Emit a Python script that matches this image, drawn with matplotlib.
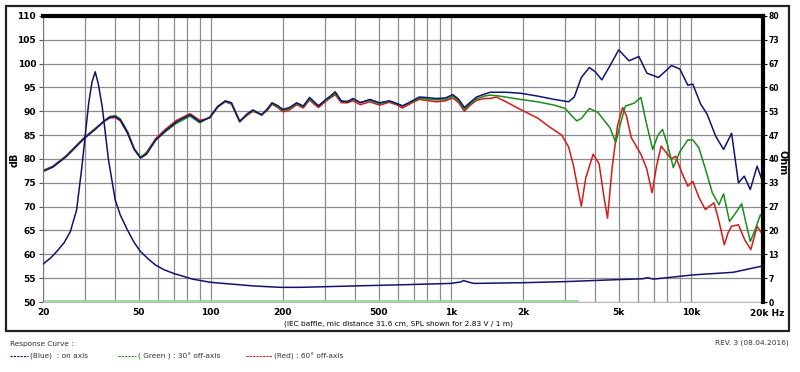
''' frequency response + impedance chart '''
import numpy as np
import matplotlib.pyplot as plt
from matplotlib.patches import Rectangle
from matplotlib.lines import Line2D

plt.rcParams['font.family'] = ['DejaVu Sans']

#%% data
# SPL, on axis (dB)
f_blue = [20, 22, 25, 28, 30, 33, 36, 38, 40, 42, 45, 48, 51, 54, 59, 65, 72, 82, 90, 99,
          107, 115, 122, 132, 142, 150, 163, 172, 180, 190, 200, 213, 228, 243, 258, 270,
          281, 300, 315, 330, 350, 370, 392, 420, 460, 505, 555, 600, 630, 690, 740, 790,
          870, 950, 1020, 1080, 1140, 1200, 1280, 1380, 1460, 1600, 1700, 1950, 2300, 2700,
          3100, 3270, 3500, 3780, 4000, 4260, 4600, 5010, 5250, 5530, 6080, 6570, 7340,
          8310, 9000, 9720, 10200, 11000, 11700, 12700, 13700, 14800, 15800, 16700, 17700,
          18900, 20000]
spl_blue = [77.4, 78.3, 80.5, 83.0, 84.5, 86.2, 88.0, 88.8, 88.9, 88.2, 85.5, 82.0, 80.2,
            81.0, 84.0, 86.0, 87.8, 89.3, 87.8, 88.7, 91.0, 92.2, 91.8, 87.8, 89.5, 90.3,
            89.2, 90.5, 91.8, 91.2, 90.4, 90.8, 91.8, 91.1, 92.9, 92.0, 91.1, 92.4, 93.2,
            94.1, 92.2, 92.0, 92.7, 91.8, 92.5, 91.8, 92.2, 91.6, 91.1, 92.2, 93.0, 92.9,
            92.7, 92.8, 93.5, 92.5, 90.8, 91.8, 93.0, 93.6, 94.0, 94.0, 94.0, 93.8, 93.2,
            92.5, 92.0, 93.0, 97.1, 99.2, 98.3, 96.6, 99.5, 102.9, 101.8, 100.6, 101.5,
            98.0, 97.1, 99.6, 98.9, 95.5, 95.7, 91.5, 89.4, 84.8, 82.0, 85.4, 75.0, 76.4,
            73.6, 78.5, 75.0]

# SPL, 30 deg off axis (dB)
f_green = [20, 22, 25, 28, 30, 33, 36, 38, 40, 42, 45, 48, 51, 54, 59, 65, 72, 82, 90, 99,
           107, 115, 122, 132, 142, 150, 163, 172, 180, 190, 200, 213, 228, 243, 258, 270,
           281, 300, 315, 330, 350, 370, 392, 420, 460, 505, 555, 600, 630, 690, 740, 790,
           870, 950, 1020, 1080, 1140, 1200, 1280, 1380, 1460, 1600, 1950, 2300, 2700, 3000,
           3200, 3350, 3500, 3780, 4100, 4600, 4870, 5100, 5340, 5800, 6200, 6500, 6940,
           7300, 7630, 8000, 8460, 9000, 9720, 10200, 10800, 11500, 12300, 13100, 13700,
           14500, 15300, 16300, 17000, 17700, 18500, 19500, 20000]
spl_green = [77.5, 78.4, 80.6, 83.1, 84.6, 86.3, 88.0, 88.9, 89.1, 88.4, 85.8, 82.2, 80.4,
             81.3, 84.0, 85.8, 87.5, 89.0, 87.6, 88.8, 91.1, 92.1, 91.7, 88.0, 89.4, 90.1,
             89.4, 90.4, 91.6, 91.0, 90.2, 90.6, 91.6, 91.0, 92.6, 91.8, 91.2, 92.2, 93.0,
             93.8, 92.1, 92.1, 92.5, 91.9, 92.3, 91.6, 92.1, 91.5, 91.2, 92.0, 92.8, 92.6,
             92.4, 92.5, 93.2, 92.2, 90.4, 91.5, 92.6, 93.2, 93.4, 93.2, 92.5, 92.0, 91.3,
             90.6, 89.0, 88.0, 88.5, 90.6, 89.8, 86.6, 83.5, 87.5, 91.1, 91.7, 92.9, 88.0,
             82.0, 85.0, 86.2, 83.0, 78.2, 81.5, 84.0, 84.0, 82.4, 78.0, 72.9, 70.4, 72.7,
             66.9, 68.5, 70.6, 66.5, 62.7, 65.0, 68.3, 67.5]

# SPL, 60 deg off axis (dB)
f_red = [20, 22, 25, 28, 30, 33, 36, 38, 40, 42, 45, 48, 51, 54, 59, 65, 72, 82, 90, 99,
         107, 115, 122, 132, 142, 150, 163, 172, 180, 190, 200, 213, 228, 243, 258, 270,
         281, 300, 315, 330, 350, 370, 392, 420, 460, 505, 555, 600, 630, 690, 740, 790,
         870, 950, 1020, 1080, 1140, 1200, 1280, 1380, 1460, 1550, 1700, 1950, 2300, 2600,
         2900, 3100, 3250, 3350, 3500, 3650, 3920, 4150, 4350, 4500, 4700, 4950, 5200,
         5400, 5650, 6200, 6550, 6900, 7200, 7530, 8000, 8310, 8640, 9200, 9720, 10200,
         10800, 11500, 12500, 13100, 13800, 14300, 14800, 15800, 16800, 17800, 18900, 20000]
spl_red = [77.6, 78.5, 80.7, 83.2, 84.7, 86.4, 87.9, 88.6, 88.7, 88.0, 85.4, 82.0, 80.3,
           81.4, 84.3, 86.3, 88.1, 89.5, 88.1, 88.6, 90.9, 92.0, 91.5, 87.9, 89.2, 90.0,
           89.3, 90.2, 91.5, 90.8, 89.9, 90.3, 91.4, 90.7, 92.4, 91.5, 90.8, 92.0, 92.8,
           93.5, 91.8, 91.8, 92.2, 91.4, 92.0, 91.3, 91.9, 91.3, 90.7, 91.8, 92.5, 92.3,
           92.0, 92.2, 92.8, 91.8, 90.0, 91.2, 92.3, 92.7, 92.7, 93.0, 92.0, 90.4, 88.6,
           86.6, 85.0, 82.5, 78.5, 75.0, 70.1, 76.0, 81.0, 79.0, 72.0, 67.6, 78.0, 86.9,
           90.8, 89.0, 84.5, 81.0, 78.0, 72.9, 78.5, 82.7, 81.0, 80.0, 80.6, 77.0, 74.3,
           75.3, 72.0, 69.4, 70.8, 67.0, 62.0, 64.5, 65.9, 66.2, 63.0, 61.0, 65.9, 64.0]

# impedance (Ohm)
f_imp = [20, 21.5, 22.8, 24.5, 26, 27.6, 29, 31, 32, 33, 34, 35.3, 37.5, 40, 42, 45, 48,
         51, 55, 59, 64, 70, 84, 100, 150, 195, 235, 400, 610, 1000, 1100, 1130, 1180,
         1250, 2000, 3000, 4700, 6300, 6600, 7000, 10300, 15000, 20000]
imp = [10.6, 12.3, 14.1, 16.6, 19.7, 25.7, 37.4, 55.6, 61.5, 64.4, 61.0, 54.6, 39.7, 28.5,
       24.3, 20.1, 16.6, 14.1, 12.0, 10.3, 9.0, 8.0, 6.4, 5.5, 4.5, 4.1, 4.1, 4.5, 4.8, 5.2,
       5.6, 6.0, 5.6, 5.2, 5.4, 5.7, 6.2, 6.5, 6.8, 6.4, 7.6, 8.3, 10.1]

# flat green trace at bottom
f_flat = [20, 3400]
flat = [50.3, 50.3]

x_ticks = [20, 50, 100, 200, 500, 1000, 2000, 5000, 10000, 20000]
x_labels = ['20', '50', '100', '200', '500', '1k', '2k', '5k', '10k', '']
x_grid = [30, 40, 60, 70, 80, 90, 300, 400, 600, 700, 800, 900,
          3000, 4000, 6000, 7000, 8000, 9000]
db_ticks = [50, 55, 60, 65, 70, 75, 80, 85, 90, 95, 100, 105, 110]
ohm_labels = ['0', '7', '13', '20', '27', '33', '40', '47', '53', '60', '67', '73', '80']

navy = '#13136e'
green = '#1c8c1c'
red = '#d41a1a'

#%% plot
W, H = 800, 372
fig = plt.figure(figsize=(W/100, H/100), dpi=100)
fig.patches.append(Rectangle((6/W, 1-331/H), 783/W, 325/H, transform=fig.transFigure,
                             fill=False, edgecolor='#222222', lw=1.6))

ax = fig.add_axes([43/W, 1-302/H, 720/W, 286/H])
ax.set_xscale('log')
ax.set_xlim(20, 20000)
ax.set_ylim(50, 110)

ax.set_xticks(x_ticks)
ax.set_xticklabels(x_labels, fontsize=6.5, fontweight='bold')
ax.set_xticks(x_grid, minor=True)
ax.set_xticklabels([], minor=True)
ax.set_yticks(db_ticks)
ax.set_yticklabels([str(v) for v in db_ticks], fontsize=6.5, fontweight='bold')
ax.tick_params(axis='x', which='both', length=0, pad=4)
ax.tick_params(axis='y', length=3, width=0.8, color='#555555', pad=2)
ax.grid(True, which='both', color='#8c8c8c', lw=0.9)

ax.spines['top'].set_linewidth(3)
ax.spines['top'].set_color('black')
ax.spines['left'].set_color('#777777')
ax.spines['left'].set_linewidth(0.8)
ax.spines['bottom'].set_color('#bbbbbb')
ax.spines['bottom'].set_linewidth(0.8)
ax.spines['right'].set_visible(False)

ax.plot(f_flat, flat, color='#8fd68f', lw=1.2)
ax.plot(f_red, spl_red, color=red, lw=1.1)
ax.plot(f_green, spl_green, color=green, lw=1.1)
ax.plot(f_blue, spl_blue, color=navy, lw=1.1)

ax2 = ax.twinx()
ax2.set_ylim(0, 80)
ax2.set_yticks(np.linspace(0, 80, len(ohm_labels)))
ax2.set_yticklabels(ohm_labels, fontsize=5.5, fontweight='bold')
ax2.tick_params(axis='y', length=3, width=0.8, pad=1)
ax2.spines['right'].set_linewidth(3)
ax2.spines['right'].set_color('black')
for s in ['top', 'left', 'bottom']:
    ax2.spines[s].set_visible(False)
ax2.plot(f_imp, imp, color=navy, lw=1.1)

#%% texts
fig.text(15/W, 1-160/H, 'dB', rotation=90, fontsize=7, fontweight='bold',
         ha='center', va='center')
fig.text(783/W, 1-163/H, 'Ohm', rotation=-90, fontsize=7, fontweight='bold',
         ha='center', va='center')
fig.text(750/W, 1-313/H, '20k Hz', fontsize=6.5, fontweight='bold', ha='left', va='center')
fig.text(398/W, 1-324/H, '(IEC baffle, mic distance 31.6 cm, SPL shown for 2.83 V / 1 m)',
         fontsize=5.3, ha='center', va='center')

txt = '#333333'
fig.text(10/W, 1-344/H, 'Response Curve :', fontsize=5.3, color=txt, va='center')
fig.text(789/W, 1-343/H, 'REV. 3 (08.04.2016)', fontsize=5.3, color=txt,
         ha='right', va='center')
legend = [(10, 28, navy, '(Blue)  : on axis'),
          (118, 136, green, '( Green ) : 30° off-axis'),
          (246, 272, red, '(Red) : 60° off-axis')]
for x0, x1, c, label in legend:
    fig.lines.append(Line2D([x0/W, x1/W], [1-356/H, 1-356/H], transform=fig.transFigure,
                            color=c, lw=0.8, ls=(0, (2, 1))))
    fig.text((x1+2)/W, 1-356/H, label, fontsize=5.3, color=txt, va='center')

fig.savefig('out.png', dpi=100)
